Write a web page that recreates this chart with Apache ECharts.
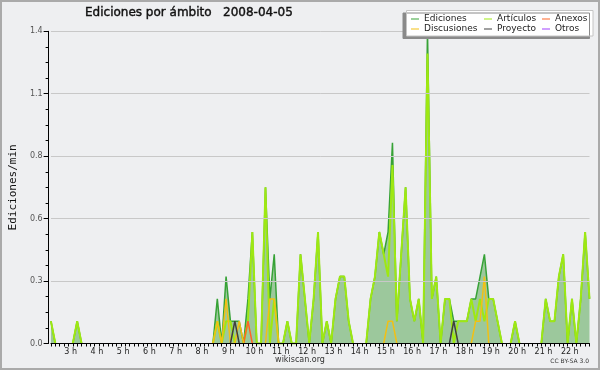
<!DOCTYPE html>
<html><head><meta charset="utf-8">
<script src="https://cdn.jsdelivr.net/npm/echarts@6/dist/echarts.min.js"></script>
<style>html,body{margin:0;padding:0;background:#eeeff1;}#c{width:600px;height:370px;}</style>
</head><body><div id="c"></div>
<script>
// 10-minute buckets from 2:10 to 22:40
const times = [];
for (let h = 2, m = 10; times.length < 124; ) {
  times.push(h + ':' + (m < 10 ? '0' + m : m));
  m += 10; if (m === 60) { m = 0; h++; }
}
const ediciones = [
  0.1,0,0,0,0,0,0.1,0,0,0,
  0,0,0,0,0,0,0,0,0,0,
  0,0,0,0,0,0,0,0,0,0,
  0,0,0,0,0,0,0,0,0.2,0,
  0.3,0.1,0.1,0.1,0,0.2,0.5,0,0,0.7,
  0.2,0.4,0,0,0.1,0,0,0.4,0.2,0,
  0.2,0.5,0,0.1,0,0.2,0.3,0.3,0.1,0,
  0,0,0,0.2,0.3,0.5,0.4,0.5,0.9,0.1,
  0.4,0.7,0.2,0.1,0.2,0,1.4,0.2,0.3,0,
  0.2,0.2,0.1,0.1,0.1,0.1,0.2,0.2,0.3,0.4,
  0.2,0.2,0.1,0,0,0,0.1,0,0,0,
  0,0,0,0.2,0.1,0.1,0.3,0.4,0,0.2,
  0,0.2,0.5,0.2
];
const articulos = [
  0.1,0,0,0,0,0,0.1,0,0,0,
  0,0,0,0,0,0,0,0,0,0,
  0,0,0,0,0,0,0,0,0,0,
  0,0,0,0,0,0,0,0,0.1,0,
  0.1,0.1,0,0,0,0.1,0.5,0,0,0.7,
  0,0.2,0,0,0.1,0,0,0.4,0.2,0,
  0.2,0.5,0,0.1,0,0.2,0.3,0.3,0.1,0,
  0,0,0,0.2,0.3,0.5,0.4,0.3,0.8,0.1,
  0.4,0.7,0.2,0.1,0.2,0,1.3,0.2,0.3,0,
  0.2,0.2,0,0.1,0.1,0.1,0.2,0.1,0.2,0.1,
  0.2,0.2,0.1,0,0,0,0.1,0,0,0,
  0,0,0,0.2,0.1,0.1,0.3,0.4,0,0.2,
  0,0.2,0.5,0.2
];
const anexos = [
  0,0,0,0,0,0,0,0,0,0, 0,0,0,0,0,0,0,0,0,0,
  0,0,0,0,0,0,0,0,0,0, 0,0,0,0,0,0,0,0,0,0,
  0,0,0,0,0,0.1,0,0,0,0, 0,0,0,0,0,0,0,0,0,0,
  0,0,0,0,0,0,0,0,0,0, 0,0,0,0,0,0,0,0,0,0,
  0,0,0,0,0,0,0,0,0,0, 0,0,0,0,0,0,0,0,0,0,
  0,0,0,0,0,0,0,0,0,0, 0,0,0,0,0,0,0,0,0,0,
  0,0,0,0
];
const discusiones = [
  0,0,0,0,0,0,0,0,0,0, 0,0,0,0,0,0,0,0,0,0,
  0,0,0,0,0,0,0,0,0,0, 0,0,0,0,0,0,0,0,0.1,0,
  0.2,0,0,0.1,0,0,0,0,0,0, 0.2,0.2,0,0,0,0,0,0,0,0,
  0,0,0,0,0,0,0,0,0,0, 0,0,0,0,0,0,0,0.1,0.1,0,
  0,0,0,0,0,0,0,0,0,0, 0,0,0,0,0,0,0,0.1,0.1,0.3,
  0,0,0,0,0,0,0,0,0,0, 0,0,0,0,0,0,0,0,0,0,
  0,0,0,0
];
const proyecto = [
  0,0,0,0,0,0,0,0,0,0, 0,0,0,0,0,0,0,0,0,0,
  0,0,0,0,0,0,0,0,0,0, 0,0,0,0,0,0,0,0,0,0,
  0,0,0.1,0,0,0,0,0,0,0, 0,0,0,0,0,0,0,0,0,0,
  0,0,0,0,0,0,0,0,0,0, 0,0,0,0,0,0,0,0,0,0,
  0,0,0,0,0,0,0,0,0,0, 0,0,0.1,0,0,0,0,0,0,0,
  0,0,0,0,0,0,0,0,0,0, 0,0,0,0,0,0,0,0,0,0,
  0,0,0,0
];
const otros = [];
const legendRows = ['Ediciones', 'Artículos', 'Anexos', '\n', 'Discusiones', 'Proyecto', 'Otros'];
const yMax = 1.4, yStep = 0.28;

// hide runs of zero that are not the foot of a peak (as the original does)
const gaps = a => a.map((v, i) => (v === 0 && !(a[i - 1] > 0) && !(a[i + 1] > 0)) ? null : v);

const chart = echarts.init(document.getElementById('c'), null, {renderer: 'canvas'});
const font = 'DejaVu Sans';
const C = {ed: '#36a236', art: '#9ee812', anx: '#ff6426', dis: '#f2c014', pro: '#404040', otr: '#a040ff'};
function ln(name, data, color, w, z, extra) {
  return Object.assign({name, type: 'line', data: gaps(data), showSymbol: false, symbol: 'none', z,
    lineStyle: {color, width: w}, itemStyle: {color}, animation: false}, extra || {});
}
const col = {'Ediciones': 'a', 'Discusiones': 'a', 'Artículos': 'b', 'Proyecto': 'b', 'Anexos': 'c', 'Otros': 'c'};
const rt = w => ({width: w, height: 10, lineHeight: 10, fontFamily: font, fontSize: 9, color: '#222'});
const GL = 48.3, GR = 10.5, GT = 31.3, GB = 26.5;
chart.setOption({
  backgroundColor: '#eeeff1',
  animation: false,
  title: {text: 'Ediciones por ámbito   2008-04-05', left: 85, top: 7, padding: 0,
    textStyle: {fontFamily: font, fontSize: 12, fontWeight: 'normal', color: '#111', textBorderColor: '#111', textBorderWidth: 0.4}},
  legend: {
    data: legendRows, orient: 'horizontal', left: 406.5, top: 10.5, z: 10,
    itemWidth: 8, itemHeight: 1, icon: 'rect', itemGap: 0, selectedMode: false,
    padding: [3.5, 0, 2, 4.5],
    backgroundColor: '#ffffff', borderColor: '#c4c4c4', borderWidth: 1,
    shadowColor: '#8a8a8a', shadowBlur: 0, shadowOffsetX: -3.5, shadowOffsetY: 2.5,
    formatter: n => '{' + col[n] + '|' + n + '}',
    textStyle: {fontFamily: font, fontSize: 9, color: '#222', rich: {a: rt(60), b: rt(45), c: rt(38)}}
  },
  grid: {left: GL, right: GR, top: GT, bottom: GB},
  xAxis: {type: 'category', boundaryGap: false, data: times, z: 6,
    axisLine: {lineStyle: {color: '#000', width: 1}},
    axisTick: {interval: 0, length: 3, lineStyle: {color: '#000'}},
    axisLabel: {interval: (i, v) => v.endsWith(':00'), formatter: v => parseInt(v) + ' h',
      fontFamily: font, fontSize: 8, color: '#222', margin: 4, padding: [0, 4.4, 0, 0]}
  },
  yAxis: {type: 'value', min: 0, max: yMax, interval: yStep, offset: 2.3, z: 6,
    name: 'Ediciones/min', nameLocation: 'middle', nameGap: 27, nameRotate: 90,
    nameTextStyle: {fontFamily: 'DejaVu Sans Mono', fontSize: 11, color: '#111'},
    axisLine: {show: true, lineStyle: {color: '#000'}},
    axisTick: {show: true, length: 5, lineStyle: {color: '#000'}},
    minorTick: {show: true, splitNumber: 4, length: 3, lineStyle: {color: '#000'}},
    splitLine: {lineStyle: {color: '#c8c8c8', width: 1}},
    axisLabel: {formatter: v => v.toFixed(1), fontFamily: font, fontSize: 8, color: '#555', margin: 6}
  },
  graphic: [
    {type: 'rect', shape: {x: 1, y: 1, width: 598, height: 368}, style: {fill: 'none', stroke: '#aaaaaa', lineWidth: 2}, z: 100},
    {type: 'line', shape: {x1: 46, y1: 343.5, x2: GL, y2: 343.5}, style: {stroke: '#000', lineWidth: 1}, z: 10},
    {type: 'text', left: 'center', top: 356, style: {text: 'wikiscan.org', font: '8px DejaVu Sans', fill: '#333'}},
    {type: 'text', right: 11, top: 358, style: {text: 'CC BY-SA 3.0', font: '6px DejaVu Sans', fill: '#333'}}
  ],
  series: [
    ln('Ediciones', ediciones, C.ed, 1.5, 1, {areaStyle: {color: '#9cc89c', opacity: 1}}),
    ln('Artículos', articulos, C.art, 2, 2),
    ln('Anexos', anexos, C.anx, 1.5, 3),
    ln('Discusiones', discusiones, C.dis, 1.5, 3),
    ln('Proyecto', proyecto, C.pro, 1.5, 3),
    ln('Otros', otros, C.otr, 1.5, 3)
  ]
});
</script></body></html>
